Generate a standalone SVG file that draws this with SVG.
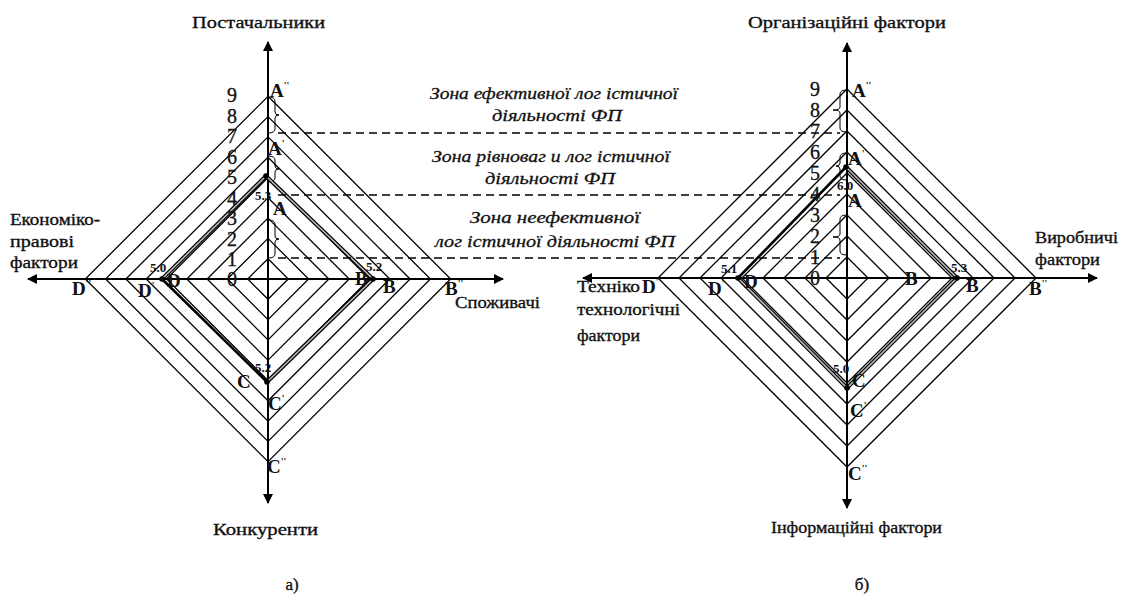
<svg xmlns="http://www.w3.org/2000/svg" width="1125" height="596" viewBox="0 0 1125 596" font-family="'Liberation Serif','DejaVu Serif',serif">
<style>
.grid{fill:none;stroke:#000;stroke-width:1.3}
.axis{stroke:#000;stroke-width:2;fill:none}
.dash{stroke:#000;stroke-width:1.4;stroke-dasharray:8 5}
.brace{fill:none;stroke:#000;stroke-width:1}
.dataO{fill:none;stroke:#000;stroke-width:4;stroke-linecap:round}
.dataI{fill:none;stroke:#bbb;stroke-width:1.6;stroke-linecap:round}
.dataS{fill:none;stroke:#000;stroke-width:2.6}
text{font-family:'Liberation Serif','DejaVu Serif',serif}
.t{font-size:17px;fill:#111;stroke:#111;stroke-width:0.35}
.z{font-style:italic;font-size:17px;fill:#111;stroke:#111;stroke-width:0.3}
.num{font-size:20px;fill:#111;text-anchor:middle;stroke:#111;stroke-width:0.3}
.lb{font-weight:bold;font-size:19px;fill:#111}
.v{font-weight:bold;font-size:13px;fill:#111}
.pr{font-size:10px}
</style>
<defs>
<marker id="arr" viewBox="0 0 10 10" refX="9" refY="5" markerWidth="5" markerHeight="5" orient="auto" markerUnits="strokeWidth">
<path d="M0,0 L10,5 L0,10 z" fill="#000"/>
</marker>
</defs>
<rect width="1125" height="596" fill="#fff"/>

<g id="left-chart">
<g id="left-grid" class="grid">
<path d="M268,258.7L288.3,279L268,299.3L247.7,279Z"/>
<path d="M268,238.4L308.6,279L268,319.6L227.4,279Z"/>
<path d="M268,218.1L328.9,279L268,339.9L207.1,279Z"/>
<path d="M268,197.8L349.2,279L268,360.2L186.8,279Z"/>
<path d="M268,177.5L369.5,279L268,380.5L166.5,279Z"/>
<path d="M268,157.2L389.8,279L268,400.8L146.2,279Z"/>
<path d="M268,136.9L410.1,279L268,421.1L125.9,279Z"/>
<path d="M268,116.6L430.4,279L268,441.4L105.6,279Z"/>
<path d="M268,96.3L450.7,279L268,461.7L85.3,279Z"/>
</g>
<g id="left-axes">
<line class="axis" x1="268" y1="503" x2="268" y2="42" marker-end="url(#arr)"/>
<line class="axis" x1="268" y1="60" x2="268" y2="503" marker-end="url(#arr)"/>
<line class="axis" x1="268" y1="279" x2="503" y2="279" marker-end="url(#arr)"/>
<line class="axis" x1="268" y1="279" x2="28" y2="279" marker-end="url(#arr)"/>
</g>
<g id="left-braces" class="brace">
<path d="M268,97Q275,97 275,101L275,112Q275,115 279,115Q275,115 275,118L275,129Q275,133 268,133"/>
<path d="M268,156Q275,156 275,160L275,166Q275,169 279,169Q275,169 275,172L275,178Q275,182 268,182"/>
<path d="M268,220Q275,220 275,224L275,236Q275,239 279,239Q275,239 275,242L275,254Q275,258 268,258"/>
</g>
<g id="left-data">
<path class="dataO" d="M162,279L266,176L373,279L267,382"/>
<path class="dataI" d="M162,279L266,176L373,279L267,382"/>
<path class="dataS" d="M162,279L267,382"/>
<circle cx="266" cy="176" r="2.8"/><circle cx="373" cy="279" r="2.8"/><circle cx="267" cy="382" r="2.8"/><circle cx="162" cy="279" r="2.8"/>
</g>
<g id="left-scale">
<text class="num" x="232" y="286">0</text>
<text class="num" x="232" y="266">1</text>
<text class="num" x="232" y="246">2</text>
<text class="num" x="232" y="225">3</text>
<text class="num" x="232" y="205">4</text>
<text class="num" x="232" y="184">5</text>
<text class="num" x="232" y="164">6</text>
<text class="num" x="232" y="143">7</text>
<text class="num" x="232" y="123">8</text>
<text class="num" x="232" y="102">9</text>
</g>
<g id="left-labels">
<text class="lb" x="270" y="97">A<tspan class="pr" dy="-8">''</tspan></text>
<text class="lb" x="268" y="155">A<tspan class="pr" dy="-8">'</tspan></text>
<text class="lb" x="273" y="215">A</text>
<text class="v" x="255" y="200">5.3</text>
<text class="lb" x="355" y="285">B</text>
<text class="v" x="366" y="271">5.2</text>
<text class="lb" x="383" y="293">B<tspan class="pr" dy="-8">'</tspan></text>
<text class="lb" x="445" y="295">B<tspan class="pr" dy="-8">''</tspan></text>
<text class="lb" x="237" y="388">C</text>
<text class="v" x="255" y="372">5.2</text>
<text class="lb" x="268" y="410">C<tspan class="pr" dy="-8">'</tspan></text>
<text class="lb" x="267" y="473">C<tspan class="pr" dy="-8">''</tspan></text>
<text class="lb" x="72" y="295">D<tspan class="pr" dy="-8">''</tspan></text>
<text class="lb" x="138" y="297">D<tspan class="pr" dy="-8">'</tspan></text>
<text class="v" x="150" y="272">5.0</text>
<text class="lb" x="167" y="287">D</text>
</g>
<g id="left-axis-titles">
<text class="t" x="192" y="28" textLength="133" lengthAdjust="spacingAndGlyphs">Постачальники</text>
<text class="t" x="455" y="308" textLength="85" lengthAdjust="spacingAndGlyphs">Споживачі</text>
<text class="t" x="213" y="535" textLength="105" lengthAdjust="spacingAndGlyphs">Конкуренти</text>
<text class="t" x="10" y="225" textLength="90" lengthAdjust="spacingAndGlyphs">Економіко-</text>
<text class="t" x="10" y="247" textLength="64" lengthAdjust="spacingAndGlyphs">правові</text>
<text class="t" x="10" y="268" textLength="68" lengthAdjust="spacingAndGlyphs">фактори</text>
<text class="t" x="292" y="590" text-anchor="middle">а)</text>
</g>
</g>

<g id="zones">
<line class="dash" x1="278" y1="133" x2="840" y2="133"/>
<line class="dash" x1="278" y1="195" x2="840" y2="195"/>
<line class="dash" x1="278" y1="258" x2="840" y2="258"/>
<text class="z" x="430" y="99" textLength="248" lengthAdjust="spacingAndGlyphs">Зона ефективної лог істичної</text>
<text class="z" x="492" y="121" textLength="130" lengthAdjust="spacingAndGlyphs">діяльності ФП</text>
<text class="z" x="432" y="162" textLength="238" lengthAdjust="spacingAndGlyphs">Зона рівноваг и лог істичної</text>
<text class="z" x="485" y="184" textLength="130" lengthAdjust="spacingAndGlyphs">діяльності ФП</text>
<text class="z" x="470" y="223" textLength="170" lengthAdjust="spacingAndGlyphs">Зона неефективної</text>
<text class="z" x="435" y="247" textLength="240" lengthAdjust="spacingAndGlyphs">лог істичної діяльності ФП</text>
</g>

<g id="right-chart">
<g id="right-grid" class="grid">
<path d="M847,257L868,278L847,299L826,278Z"/>
<path d="M847,236L889,278L847,320L805,278Z"/>
<path d="M847,215L910,278L847,341L784,278Z"/>
<path d="M847,194L931,278L847,362L763,278Z"/>
<path d="M847,173L952,278L847,383L742,278Z"/>
<path d="M847,152L973,278L847,404L721,278Z"/>
<path d="M847,131L994,278L847,425L700,278Z"/>
<path d="M847,110L1015,278L847,446L679,278Z"/>
<path d="M847,89L1036,278L847,467L658,278Z"/>
</g>
<g id="right-axes">
<line class="axis" x1="847" y1="300" x2="847" y2="43" marker-end="url(#arr)"/>
<line class="axis" x1="847" y1="60" x2="847" y2="508" marker-end="url(#arr)"/>
<line class="axis" x1="847" y1="278" x2="1097" y2="278" marker-end="url(#arr)"/>
<line class="axis" x1="847" y1="278" x2="583" y2="278" marker-end="url(#arr)"/>
</g>
<g id="right-braces" class="brace">
<path d="M847,90Q840,90 840,94L840,107Q840,110 833,110Q840,110 840,113L840,128Q840,132 847,132"/>
<path d="M847,153Q840,153 840,157L840,163Q840,166 836,166Q840,166 840,169L840,176Q840,180 847,180"/>
<path d="M847,215Q840,215 840,219L840,234Q840,237 833,237Q840,237 840,240L840,251Q840,255 847,255"/>
</g>
<g id="right-data">
<path class="dataO" d="M846,167L957,278L847,388L738,278"/>
<path class="dataI" d="M846,167L957,278L847,388L738,278"/>
<path class="dataS" d="M738,278L846,167"/>
<circle cx="846" cy="167" r="2.8"/><circle cx="957" cy="278" r="2.8"/><circle cx="847" cy="388" r="2.8"/><circle cx="738" cy="278" r="2.8"/>
</g>
<g id="right-scale">
<text class="num" x="815" y="285">0</text>
<text class="num" x="815" y="264">1</text>
<text class="num" x="815" y="243">2</text>
<text class="num" x="815" y="222">3</text>
<text class="num" x="815" y="201">4</text>
<text class="num" x="815" y="180">5</text>
<text class="num" x="815" y="159">6</text>
<text class="num" x="815" y="138">7</text>
<text class="num" x="815" y="117">8</text>
<text class="num" x="815" y="96">9</text>
</g>
<g id="right-labels">
<text class="lb" x="852" y="97">A<tspan class="pr" dy="-8">''</tspan></text>
<text class="lb" x="848" y="165">A<tspan class="pr" dy="-8">'</tspan></text>
<text class="lb" x="848" y="207">A</text>
<text class="v" x="837" y="190">6.0</text>
<text class="lb" x="905" y="285">B</text>
<text class="v" x="951" y="272">5.3</text>
<text class="lb" x="966" y="292">B<tspan class="pr" dy="-8">'</tspan></text>
<text class="lb" x="1029" y="295">B<tspan class="pr" dy="-8">''</tspan></text>
<text class="v" x="833" y="373">5.0</text>
<text class="lb" x="852" y="387">C</text>
<text class="lb" x="850" y="417">C<tspan class="pr" dy="-8">'</tspan></text>
<text class="lb" x="848" y="480">C<tspan class="pr" dy="-8">''</tspan></text>
<text class="lb" x="642" y="293">D<tspan class="pr" dy="-8">''</tspan></text>
<text class="lb" x="708" y="295">D<tspan class="pr" dy="-8">'</tspan></text>
<text class="v" x="721" y="273">5.1</text>
<text class="lb" x="744" y="288">D</text>
</g>
<g id="right-axis-titles">
<text class="t" x="748" y="28" textLength="198" lengthAdjust="spacingAndGlyphs">Організаційні фактори</text>
<text class="t" x="1035" y="243" textLength="83" lengthAdjust="spacingAndGlyphs">Виробничі</text>
<text class="t" x="1035" y="265" textLength="65" lengthAdjust="spacingAndGlyphs">фактори</text>
<text class="t" x="577" y="292" textLength="63" lengthAdjust="spacingAndGlyphs">Техніко</text>
<text class="t" x="577" y="315" font-size="15" textLength="103" lengthAdjust="spacingAndGlyphs">технологічні</text>
<text class="t" x="577" y="341" font-size="15" textLength="63" lengthAdjust="spacingAndGlyphs">фактори</text>
<text class="t" x="771" y="533" textLength="171" lengthAdjust="spacingAndGlyphs">Інформаційні фактори</text>
<text class="t" x="862" y="590" text-anchor="middle">б)</text>
</g>
</g>
</svg>
